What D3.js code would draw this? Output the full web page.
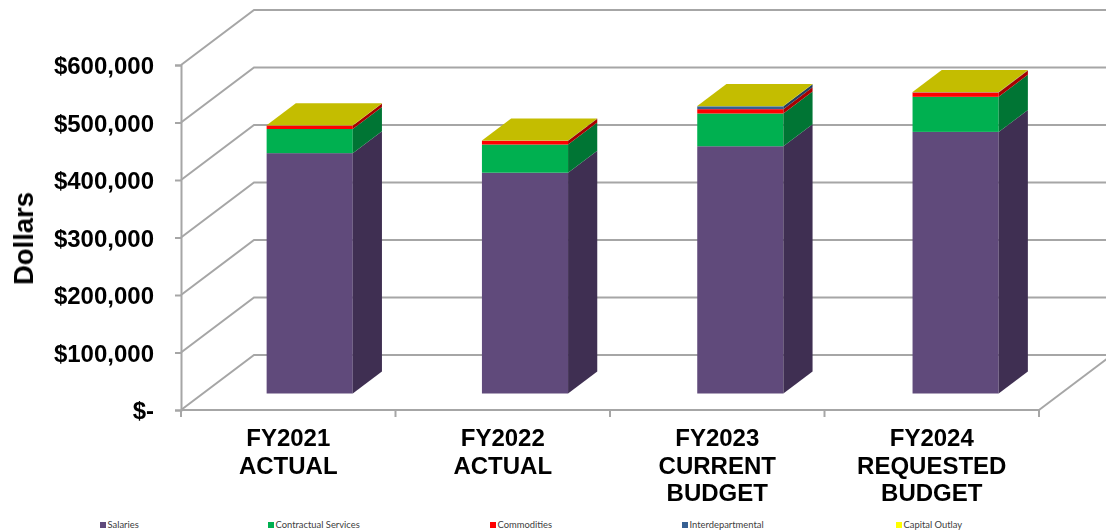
<!DOCTYPE html>
<html>
<head>
<meta charset="utf-8">
<script src="https://cdn.jsdelivr.net/npm/d3@7"></script>
<style>
	html, body { margin: 0; padding: 0; background: #fff; overflow: hidden; }
	svg { display: block; }
</style>
</head>
<body>
<div id="chart"></div>
<script>
// values
const categories = ["FY2021", "FY2022", "FY2023", "FY2024"];
const categoryLines = [
	["FY2021", "ACTUAL"],
	["FY2022", "ACTUAL"],
	["FY2023", "CURRENT", "BUDGET"],
	["FY2024", "REQUESTED", "BUDGET"]
];
const seriesNames = ["Salaries", "Contractual Services", "Commodities", "Interdepartmental", "Capital Outlay"];
const salaries = [418000, 384000, 430000, 455000];
const contractual = [42000, 49000, 57000, 61000];
const commodities = [6000, 6500, 7500, 7500];
const interdepartmental = [300, 300, 5000, 500];
const capitalOutlay = [300, 300, 300, 300];
const yTicks = [0, 100000, 200000, 300000, 400000, 500000, 600000];

const frontColors = ["#604a7b", "#00b050", "#ff0000", "#376092", "#ffff00"];
const sideColors = ["#3f2f52", "#007534", "#a80000", "#243f60", "#a8a800"];
const topColors = ["#7d6a96", "#33c070", "#ff4040", "#5a7fae", "#c4bd00"];
const legendX = [100, 268, 490, 682, 896];

const width = 1106, height = 531;
const GRID = "#a6a6a6";
// depth of the 3D box in px
const DEPTH_X = 73, DEPTH_Y = 55;
// bars take this slice of the box depth
const BAR_NEAR = 0.3, BAR_FAR = 0.7;

const svg = d3.select("#chart").append("svg")
	.attr("width", width)
	.attr("height", height)
	.style("font-family", "'Liberation Sans', Arial, sans-serif");

// the source is a slightly soft scan, legend stays out of this
const plot = svg.append("g").style("filter", "blur(0.4px)");

const y = d3.scaleLinear().domain([0, 600000]).range([410, 65]);
// axis slots
const xAxisScale = d3.scaleBand().domain(categories).range([181, 1039]);
// bars
const x = d3.scaleBand().domain(categories).range([181, 1040.5])
	.paddingInner(0.6).paddingOuter(0.296);

// move a front plane point back into the box
function project(px, py, depth) {
	return [px + depth * DEPTH_X, py - depth * DEPTH_Y];
}

function polyPoints(pts) {
	return pts.map(p => p.join(",")).join(" ");
}

// walls and floor
const wall = plot.append("g").attr("fill", "none").attr("stroke", GRID).attr("stroke-width", 2);
yTicks.forEach(t => {
	const back = project(181, y(t), 1);
	wall.append("polyline")
		.attr("points", polyPoints([[181, y(t)], back, [1120, back[1]]]));
});
// floor right edge
wall.append("line")
	.attr("x1", 1039).attr("y1", y(0))
	.attr("x2", 1039 + DEPTH_X).attr("y2", y(0) - DEPTH_Y);

// y axis
const yAxis = plot.append("g")
	.attr("transform", "translate(181,0)")
	.call(d3.axisLeft(y)
		.tickValues(yTicks)
		.tickSize(6)
		.tickPadding(21)
		.tickFormat(d => d === 0 ? "$-" : "$" + d3.format(",")(d)));
yAxis.select(".domain").attr("stroke", GRID).attr("stroke-width", 2);
yAxis.selectAll(".tick line").attr("stroke", GRID).attr("stroke-width", 2);
yAxis.selectAll("text")
	.attr("fill", "#000")
	.attr("dy", "0.37em")
	.style("font-family", "'Liberation Sans', Arial, sans-serif")
	.style("font-size", "24px")
	.style("font-weight", "bold");

// x axis, ticks sit between the categories
const xAxis = plot.append("g");
xAxis.append("line")
	.attr("x1", 181).attr("x2", 1039)
	.attr("y1", y(0)).attr("y2", y(0))
	.attr("stroke", GRID).attr("stroke-width", 2);
d3.range(categories.length + 1).forEach(i => {
	const tx = 181 + i * xAxisScale.step();
	xAxis.append("line")
		.attr("x1", tx).attr("x2", tx)
		.attr("y1", y(0)).attr("y2", y(0) + 7)
		.attr("stroke", GRID).attr("stroke-width", 2);
});

// stacked bars
const rows = categories.map((c, i) => ({
	category: c,
	Salaries: salaries[i],
	"Contractual Services": contractual[i],
	Commodities: commodities[i],
	Interdepartmental: interdepartmental[i],
	"Capital Outlay": capitalOutlay[i]
}));
const stacked = d3.stack().keys(seriesNames)(rows);

// shift the whole bar to its near plane
const near = project(0, 0, BAR_NEAR);
const sideDx = (BAR_FAR - BAR_NEAR) * DEPTH_X;
const sideDy = (BAR_FAR - BAR_NEAR) * DEPTH_Y;

stacked.forEach((layer, s) => {
	const g = plot.append("g").attr("class", "layer");
	layer.forEach(d => {
		const left = x(d.data.category) + near[0];
		const right = left + x.bandwidth();
		const y0 = y(d[0]) + near[1];
		const y1 = y(d[1]) + near[1];

		g.append("rect")
			.attr("x", left)
			.attr("y", y1)
			.attr("width", x.bandwidth())
			.attr("height", y0 - y1)
			.attr("fill", frontColors[s]);

		g.append("polygon")
			.attr("points", polyPoints([[right, y0], [right + sideDx, y0 - sideDy], [right + sideDx, y1 - sideDy], [right, y1]]))
			.attr("fill", sideColors[s]);

		// only the last series shows a lid
		if (s === seriesNames.length - 1) {
			g.append("polygon")
				.attr("points", polyPoints([[left, y1], [left + sideDx, y1 - sideDy], [right + sideDx, y1 - sideDy], [right, y1]]))
				.attr("fill", topColors[s]);
		}
	});
});

// category labels
const labels = plot.append("g")
	.attr("text-anchor", "middle")
	.attr("font-size", 24)
	.attr("font-weight", "bold")
	.attr("fill", "#000");
categories.forEach((c, i) => {
	const cx = xAxisScale(c) + xAxisScale.bandwidth() / 2;
	const text = labels.append("text")
		.attr("x", cx)
		.attr("y", 446);
	categoryLines[i].forEach((line, j) => {
		text.append("tspan")
			.attr("x", cx)
			.attr("dy", j === 0 ? 0 : 27.5)
			.text(line);
	});
});

// y title
plot.append("text")
	.attr("transform", "translate(33,238.5) rotate(-90)")
	.attr("text-anchor", "middle")
	.attr("font-size", 27.5)
	.attr("font-weight", "bold")
	.attr("fill", "#000")
	.text("Dollars");

// legend
const legend = svg.append("g").attr("class", "legend");
seriesNames.forEach((name, i) => {
	legend.append("rect")
		.attr("x", legendX[i])
		.attr("y", 522)
		.attr("width", 6)
		.attr("height", 6)
		.attr("fill", frontColors[i]);
	legend.append("text")
		.attr("x", legendX[i] + 7.5)
		.attr("y", 528)
		.attr("font-family", "Lato, 'Open Sans', sans-serif")
		.attr("font-size", 9.4)
		.attr("fill", "#404040")
		.text(name);
});
</script>
</body>
</html>
